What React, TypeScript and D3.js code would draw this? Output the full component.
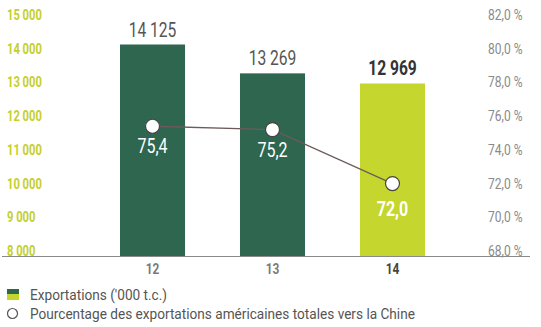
import React from "react";
import * as d3 from "d3";

const categories = ["12", "13", "14"];
const exports = [14125, 13269, 12969];
const exportLabels = ["14 125", "13 269", "12 969"];
const shares = [75.4, 75.2, 72.0];
const shareLabels = ["75,4", "75,2", "72,0"];
const leftTicks = [8000, 9000, 10000, 11000, 12000, 13000, 14000, 15000];
const leftTickLabels = ["8 000", "9 000", "10 000", "11 000", "12 000", "13 000", "14 000", "15 000"];
const rightTicks = [68, 70, 72, 74, 76, 78, 80, 82];
const rightTickLabels = ["68,0 %", "70,0 %", "72,0 %", "74,0 %", "76,0 %", "78,0 %", "80,0 %", "82,0 %"];
const legendItems = ["Exportations ('000 t.c.)", "Pourcentage des exportations américaines totales vers la Chine"];

const W = 541;
const H = 327;
const FONT = "Roboto, 'Liberation Sans', sans-serif";
const DARK = "#2e6650";
const LIME = "#c5d62f";
const BASE = 256;

type NTProps = {
  x: number;
  y: number;
  sx?: number;
  anchor?: "start" | "middle" | "end";
  size: number;
  weight?: string;
  fill: string;
  dy?: string;
  children: React.ReactNode;
};

function NText({ x, y, sx = 0.8, anchor = "start", size, weight = "normal", fill, dy, children }: NTProps) {
  return (
    <text
      transform={`translate(${x},${y}) scale(${sx},1)`}
      textAnchor={anchor}
      fontSize={size}
      fontWeight={weight}
      fill={fill}
      dy={dy}
    >
      {children}
    </text>
  );
}

export default function App() {
  const x = d3.scaleBand<string>().domain(categories).range([60, 485]).paddingInner(0.458).paddingOuter(0.5);
  const yL = d3.scaleLinear().domain([8000, 15000]).range([251, 15]);
  const yR = d3.scaleLinear().domain([68, 82]).range([251, 15]);
  const line = d3
    .line<number>()
    .x((_, i) => (x(categories[i]) as number) + x.bandwidth() / 2)
    .y((d) => yR(d));
  const last = categories.length - 1;

  return (
    <svg width={W} height={H} style={{ position: "absolute", left: 0, top: 0, background: "#fff" }} fontFamily={FONT}>
      {leftTicks.map((t, i) => (
        <NText key={"l" + t} x={7} y={yL(t)} dy="0.36em" sx={0.8} size={14} weight="bold" fill="#c4cf2c">
          {leftTickLabels[i]}
        </NText>
      ))}
      {rightTicks.map((t, i) => (
        <NText key={"r" + t} x={488} y={yR(t)} dy="0.36em" sx={0.86} size={14} fill="#8a8a8a">
          {rightTickLabels[i]}
        </NText>
      ))}
      {exports.map((v, i) => {
        const bx = x(categories[i]) as number;
        const cx = bx + x.bandwidth() / 2;
        return (
          <g key={"b" + i}>
            <rect x={bx} y={yL(v)} width={x.bandwidth()} height={BASE - yL(v)} fill={i === last ? LIME : DARK} />
            <NText
              x={cx}
              y={yL(v) - 8}
              anchor="middle"
              sx={0.78}
              size={20}
              weight={i === last ? "bold" : "normal"}
              fill={i === last ? "#333" : "#555"}
            >
              {exportLabels[i]}
            </NText>
            <NText
              x={cx}
              y={BASE + 18}
              anchor="middle"
              sx={0.85}
              size={14}
              weight="bold"
              fill={i === last ? "#444" : "#7a7a7a"}
            >
              {categories[i]}
            </NText>
          </g>
        );
      })}
      <line x1={2} x2={530} y1={BASE + 0.5} y2={BASE + 0.5} stroke="#8a8a8a" strokeWidth={1} />
      <path d={line(shares) || ""} fill="none" stroke="#6e5a5a" strokeWidth={1.3} />
      {shares.map((v, i) => {
        const cx = (x(categories[i]) as number) + x.bandwidth() / 2;
        return (
          <g key={"p" + i}>
            <circle cx={cx} cy={yR(v)} r={7} fill="#fff" stroke="#444" strokeWidth={1.2} />
            <NText
              x={cx}
              y={yR(v) + (i === last ? 32 : 27)}
              anchor="middle"
              sx={0.8}
              size={20}
              weight={i === last ? "bold" : "normal"}
              fill="#fff"
            >
              {shareLabels[i]}
            </NText>
          </g>
        );
      })}
      <rect x={7} y={289} width={12} height={5} fill={DARK} />
      <rect x={7} y={294} width={12} height={6} fill={LIME} />
      <NText x={30} y={300} sx={0.88} size={15.5} fill="#555">
        {legendItems[0]}
      </NText>
      <circle cx={12.5} cy={313.5} r={5} fill="#fff" stroke="#555" strokeWidth={1.2} />
      <NText x={30} y={319} sx={0.88} size={15.5} fill="#555">
        {legendItems[1]}
      </NText>
    </svg>
  );
}
